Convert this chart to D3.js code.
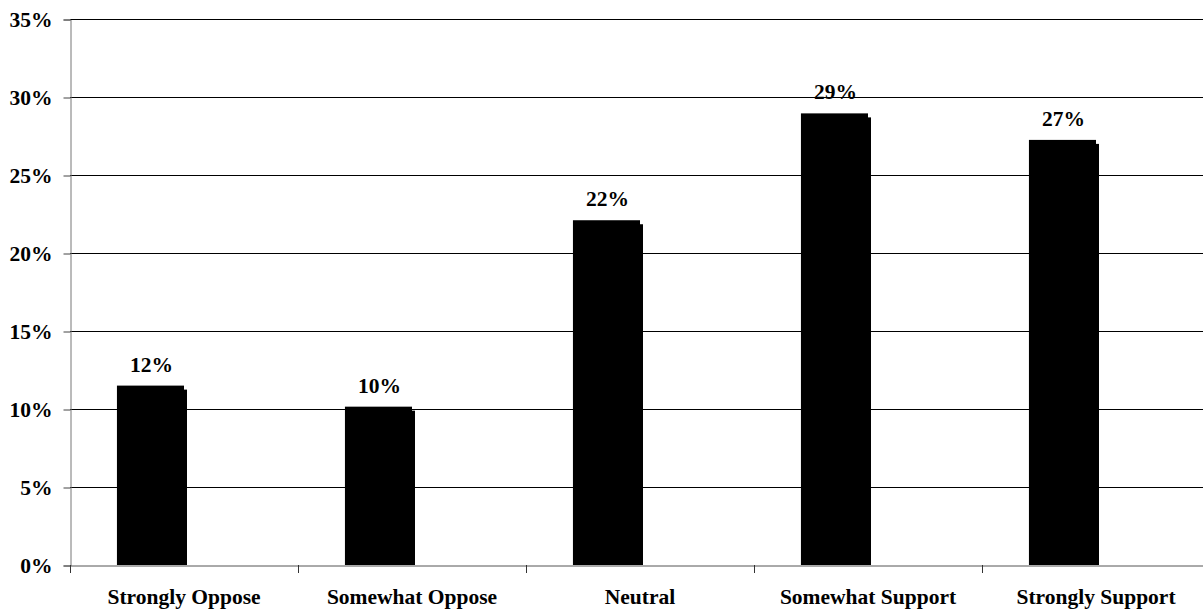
<!DOCTYPE html>
<html>
<head>
<meta charset="utf-8">
<script src="https://cdn.jsdelivr.net/npm/d3@7"></script>
<style>
  html, body { margin: 0; padding: 0; background: #fff; }
  svg { display: block; }
  text { font-family: "Liberation Serif", "Times New Roman", serif; font-weight: bold; fill: #000; }
</style>
</head>
<body>
<svg id="chart" width="1203" height="611"></svg>
<script>
const categories = ["Strongly Oppose", "Somewhat Oppose", "Neutral", "Somewhat Support", "Strongly Support"];
const values = [11.5, 10.15, 22.1, 28.95, 27.25];
const valueLabels = ["12%", "10%", "22%", "29%", "27%"];
const yTicks = [0, 5, 10, 15, 20, 25, 30, 35];
const seriesSlots = ["value", "empty"];

const svg = d3.select("#chart");
const left = 70, baseY = 565, topY = 19;
const bandW = 228;
const right = left + bandW * categories.length;

const x = d3.scaleBand().domain(categories).range([left, right]).padding(0);
const xs = d3.scaleBand().domain(seriesSlots).range([0, x.bandwidth()]).paddingInner(0).paddingOuter(0.7);
const y = d3.scaleLinear().domain([0, 35]).range([baseY, topY]);

// gridlines
svg.append("g")
  .selectAll("line")
  .data(yTicks.filter(d => d > 0))
  .join("line")
  .attr("x1", left).attr("x2", 1203)
  .attr("y1", d => Math.round(y(d)) + 0.5).attr("y2", d => Math.round(y(d)) + 0.5)
  .attr("stroke", "#000").attr("stroke-width", 1);

// y axis
const yAxis = d3.axisLeft(y).tickValues(yTicks).tickFormat(d => d + "%").tickSize(7).tickPadding(11);
const gy = svg.append("g").attr("transform", `translate(${left + 0.5},0.5)`).call(yAxis);
gy.select(".domain").attr("stroke", "#777");
gy.selectAll(".tick line").attr("stroke", "#444");
gy.selectAll(".tick text")
  .style("font-size", "21.5px")
  .style("font-family", "'Liberation Serif', 'Times New Roman', serif")
  .style("font-weight", "bold")
  .attr("fill", "#000");

// bars (shadow + main)
const bars = svg.append("g");
bars.selectAll("rect.shadow")
  .data(values)
  .join("rect")
  .attr("class", "shadow")
  .attr("x", (d, i) => x(categories[i]) + xs("value") + 3)
  .attr("y", d => y(d) + 4)
  .attr("width", xs.bandwidth())
  .attr("height", d => baseY - y(d) - 4)
  .attr("fill", "#000");
bars.selectAll("rect.main")
  .data(values)
  .join("rect")
  .attr("class", "main")
  .attr("x", (d, i) => x(categories[i]) + xs("value"))
  .attr("y", d => y(d))
  .attr("width", xs.bandwidth())
  .attr("height", d => baseY - y(d))
  .attr("fill", "#000");

// x axis
const xAxis = d3.axisBottom(x).tickSize(0).tickFormat("");
const gx = svg.append("g").attr("transform", `translate(0,${baseY + 0.5})`).call(xAxis);
gx.select(".domain").attr("stroke", "#555");
// category boundary ticks
svg.append("g")
  .selectAll("line")
  .data(d3.range(categories.length + 1))
  .join("line")
  .attr("x1", i => Math.round(left + i * x.step()) + 0.5)
  .attr("x2", i => Math.round(left + i * x.step()) + 0.5)
  .attr("y1", baseY).attr("y2", baseY + 8)
  .attr("stroke", "#333");

// category labels
svg.append("g")
  .selectAll("text")
  .data(categories)
  .join("text")
  .attr("x", d => x(d) + x.bandwidth() / 2)
  .attr("y", 604)
  .attr("text-anchor", "middle")
  .style("font-size", "21.5px")
  .text(d => d);

// value labels
svg.append("g")
  .selectAll("text")
  .data(values)
  .join("text")
  .attr("x", (d, i) => x(categories[i]) + xs("value") + xs.bandwidth() / 2 + 1)
  .attr("y", d => y(d) - 14)
  .attr("text-anchor", "middle")
  .style("font-size", "21.5px")
  .text((d, i) => valueLabels[i]);
</script>
</body>
</html>
